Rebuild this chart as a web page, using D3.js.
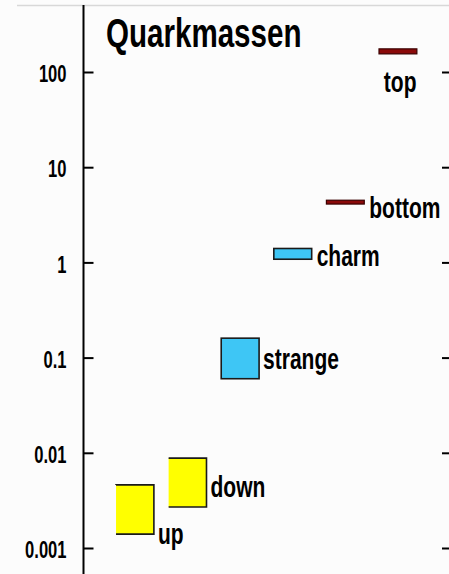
<html>
<head>
  <script src="https://unpkg.com/d3@7/dist/d3.min.js"></script>
  <style>
    body { margin: 0; background: #fff; }
    text { font-family: "Liberation Sans", Arial, sans-serif; font-weight: bold; fill: #000; }
  </style>
</head>
<body>
  <svg id="container" width="449" height="574"></svg>
<script>
    // quark mass ranges in GeV
    const quarks = ['up', 'down', 'strange', 'charm', 'bottom', 'top'];
    const massLow = [0.0014, 0.0027, 0.06, 1.08, 4.1, 155];
    const massHigh = [0.0046, 0.0088, 0.16, 1.4, 4.5, 175];
    const colors = ['#ffff00', '#ffff00', '#3ec6f5', '#3ec6f5', '#8b0a0a', '#8b0a0a'];
    const tickValues = [0.001, 0.01, 0.1, 1, 10, 100];
    const tickLabels = ['0.001', '0.01', '0.1', '1', '10', '100'];

    const svg = d3.select('#container');
    const tickSqueeze = 0.72;
    const labelSqueeze = 0.7;

    svg.append('rect')
      .attr('width', 449).attr('height', 574)
      .attr('fill', '#fcfcfc');

    // faint frame line at the top
    svg.append('line')
      .attr('x1', 17).attr('x2', 449)
      .attr('y1', 5.5).attr('y2', 5.5)
      .attr('stroke', '#d8d8d8').attr('stroke-width', 1.5);

    const yScale = d3.scaleLog()
      .domain([0.001, 100])
      .range([548, 72]);

    const xScale = d3.scaleBand()
      .domain(quarks)
      .range([101.3, 431.6])
      .padding(0.28);

    // left axis
    const leftAxis = svg.append('g')
      .attr('transform', 'translate(83.5, 0)')
      .call(d3.axisLeft(yScale)
        .tickValues(tickValues)
        .tickFormat((d, i) => tickLabels[i])
        .tickSize(-10)
        .tickSizeOuter(0)
        .tickPadding(17));
    leftAxis.select('.domain').remove();
    leftAxis.selectAll('.tick line').attr('stroke', '#000').attr('stroke-width', 2);
    leftAxis.selectAll('.tick text')
      .attr('font-size', 23)
      .attr('font-family', '"Liberation Sans", Arial, sans-serif')
      .attr('font-weight', 'bold')
      .attr('dy', '0.42em')
      .attr('x', -17 / tickSqueeze)
      .attr('transform', `scale(${tickSqueeze},1)`);
    svg.append('line')
      .attr('x1', 83.5).attr('x2', 83.5)
      .attr('y1', 5).attr('y2', 574)
      .attr('stroke', '#000').attr('stroke-width', 2);

    // right axis, ticks only
    const rightAxis = svg.append('g')
      .attr('transform', 'translate(449, 0)')
      .call(d3.axisRight(yScale)
        .tickValues(tickValues)
        .tickFormat('')
        .tickSize(-7)
        .tickSizeOuter(0));
    rightAxis.select('.domain').remove();
    rightAxis.selectAll('.tick line').attr('stroke', '#000').attr('stroke-width', 2);

    // mass boxes
    const boxes = svg.selectAll('.box')
      .data(quarks)
      .enter()
      .append('rect')
      .attr('class', 'box')
      .attr('x', (q) => xScale(q))
      .attr('y', (q, i) => yScale(massHigh[i]))
      .attr('width', xScale.bandwidth())
      .attr('height', (q, i) => yScale(massLow[i]) - yScale(massHigh[i]))
      .attr('fill', (q, i) => colors[i])
      .attr('stroke', (q, i) => i > 3 ? '#3a0000' : '#1a1a1a')
      .attr('stroke-width', (q, i) => i > 3 ? 1.2 : 1.6);

    // yellow boxes have no outline on the left side
    boxes.filter((q, i) => i < 2)
      .attr('stroke-dasharray', function () {
        const w = +this.getAttribute('width');
        const h = +this.getAttribute('height');
        return `${w + h + w} ${h}`;
      });

    // label placement next to each box
    const labelDx = [4, 4, 4, 5, 5, -33];
    const labelDy = [35, 14, 11, 12, 16, 41];

    quarks.forEach((q, i) => {
      const mid = Math.sqrt(massLow[i] * massHigh[i]);
      svg.append('text')
        .attr('transform', `translate(${xScale(q) + xScale.bandwidth() + labelDx[i]}, ${yScale(mid) + labelDy[i]}) scale(${labelSqueeze},1)`)
        .attr('font-size', 30)
        .text(q);
    });

    svg.append('text')
      .attr('transform', 'translate(106, 47) scale(0.73,1)')
      .attr('font-size', 40.5)
      .text('Quarkmassen');
</script>
</body>
</html>
